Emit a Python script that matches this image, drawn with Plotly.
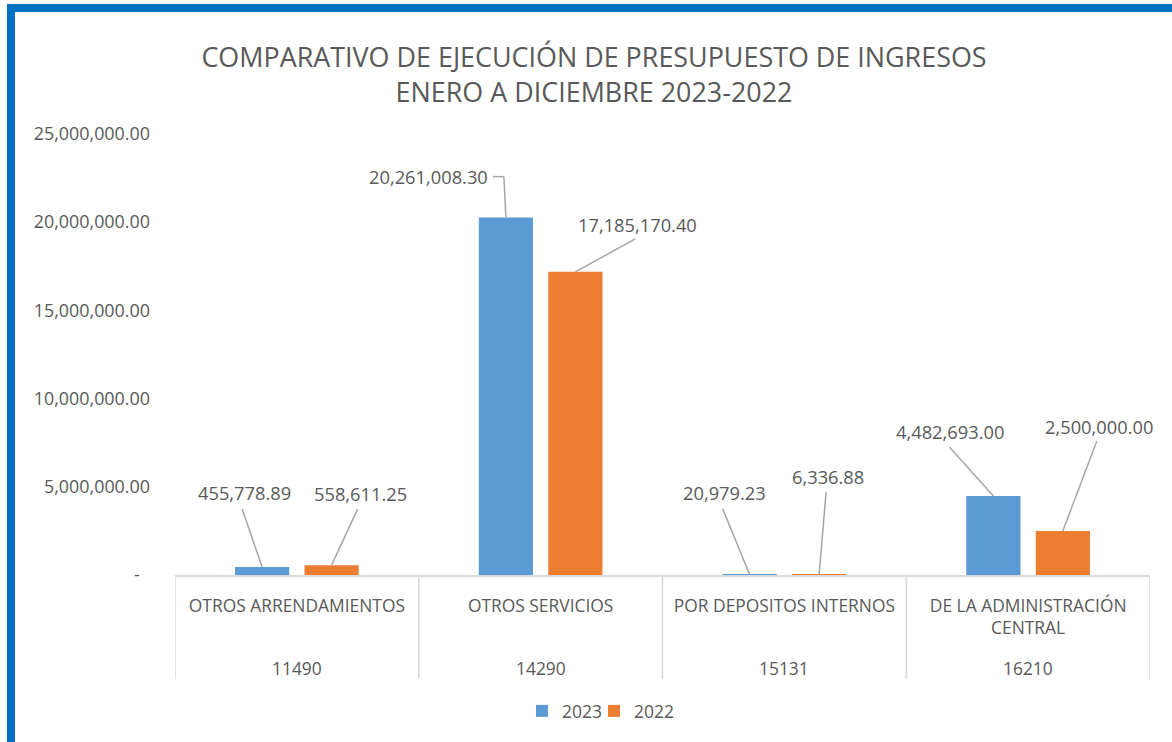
import plotly.graph_objects as go

# ---- data -------------------------------------------------------------
codes = ["11490", "14290", "15131", "16210"]
names = ["OTROS ARRENDAMIENTOS", "OTROS SERVICIOS", "POR DEPOSITOS INTERNOS",
         "DE LA ADMINISTRACIÓN<br>CENTRAL"]
series_names = ["2023", "2022"]
values_2023 = [455778.89, 20261008.30, 20979.23, 4482693.00]
values_2022 = [558611.25, 17185170.40, 6336.88, 2500000.00]
y_ticks = [0, 5000000, 10000000, 15000000, 20000000, 25000000]

# ---- styling ----------------------------------------------------------
W, H = 1172, 742
ML, MR, MT, MB = 175, 22, 134, 167
FONT = "Open Sans"
TXT = "#595959"
GRID = "#d9d9d9"
LEADER = "#a6a6a6"
colors = ["#5b9bd5", "#ed7d31"]
BARGAP, GROUPGAP = 0.43, 0.22
legend_ids = ["legend", "legend2"]
legend_left_px = [522, 594]

# pixel offsets of each data label (text centre) and its leader line,
# relative to the top-centre of the bar; screen y grows downward
label_layout = {
    "2023": [
        dict(text=(-18, -74), path=[(-20, -58)]),
        dict(text=(-77, -41), path=[(-2, -41), (-13, -41)]),
        dict(text=(-25, -82), path=[(-27, -66)]),
        dict(text=(-43, -64), path=[(-44, -49)]),
    ],
    "2022": [
        dict(text=(29, -72), path=[(26, -56)]),
        dict(text=(62, -47), path=[(60, -33)]),
        dict(text=(9, -98), path=[(7, -83)]),
        dict(text=(36, -104), path=[(34, -90)]),
    ],
}

fig = go.Figure()
for name, vals, col, lg in zip(series_names, [values_2023, values_2022],
                               colors, legend_ids):
    fig.add_trace(go.Bar(
        x=names, y=vals, name=name, legend=lg, showlegend=True,
        marker=dict(color=col, line=dict(width=0)),
        hoverinfo="y",
    ))

# grouped-bar centre offsets in category units
offsets = [(-0.5 + (k + 0.5) / len(series_names)) * (1 - BARGAP)
           for k in range(len(series_names))]


def px_x(p):
    return (p - ML) / (W - ML - MR)


def px_y(p):
    return 1 - (p - MT) / (H - MT - MB)


annotations = []
shapes = []
for k, (name, vals) in enumerate(zip(series_names, [values_2023, values_2022])):
    for i, v in enumerate(vals):
        xpos = i + offsets[k]
        spec = label_layout[name][i]
        dx, dy = spec["text"]
        annotations.append(dict(
            x=xpos, y=v, xref="x2", yref="y", text=f"{v:,.2f}",
            showarrow=False, xshift=dx, yshift=-dy,
            xanchor="center", yanchor="middle",
            font=dict(family=FONT, size=18.3, color=TXT),
        ))
        pts = [(0, 0)] + spec["path"]
        for (x0, y0), (x1, y1) in zip(pts[:-1], pts[1:]):
            shapes.append(dict(
                type="line", xref="x2", yref="y",
                xsizemode="pixel", ysizemode="pixel",
                xanchor=xpos, yanchor=v,
                x0=x0, y0=-y0, x1=x1, y1=-y1,
                line=dict(color=LEADER, width=1.5),
            ))

# second row of category labels (account codes) and the table dividers
for i, code in enumerate(codes):
    annotations.append(dict(
        x=i, y=px_y(668), xref="x2", yref="paper", text=code,
        showarrow=False, xanchor="center", yanchor="middle",
        font=dict(family=FONT, size=17.4, color=TXT),
    ))
for b in range(len(codes) + 1):
    shapes.append(dict(
        type="line", xref="x2", yref="paper",
        x0=b - 0.5, x1=b - 0.5, y0=px_y(575), y1=px_y(679),
        line=dict(color=GRID, width=1.5),
    ))

# blue frame along the top and left edges
FRAME = "#0070c0"
shapes.append(dict(type="rect", xref="paper", yref="paper",
                   x0=px_x(7), x1=px_x(W + 5), y0=px_y(12), y1=px_y(4),
                   fillcolor=FRAME, line=dict(width=0), layer="above"))
shapes.append(dict(type="rect", xref="paper", yref="paper",
                   x0=px_x(7), x1=px_x(15), y0=px_y(H + 5), y1=px_y(4),
                   fillcolor=FRAME, line=dict(width=0), layer="above"))

tick_text = ["-\u2007" if t == 0 else f"{t:,.2f}" for t in y_ticks]

legend_style = dict(
    orientation="h", xref="container", yref="container",
    xanchor="left", y=1 - 711 / H, yanchor="middle",
    font=dict(family=FONT, size=17.5, color=TXT),
    itemwidth=30, bgcolor="rgba(0,0,0,0)",
)
legends = {lg: dict(legend_style, x=left / W)
           for lg, left in zip(legend_ids, legend_left_px)}

fig.update_layout(
    width=W, height=H,
    showlegend=True,
    margin=dict(l=ML, r=MR, t=MT, b=MB, pad=0),
    paper_bgcolor="white", plot_bgcolor="white",
    barmode="group", bargap=BARGAP, bargroupgap=GROUPGAP,
    title=dict(
        text="COMPARATIVO DE EJECUCIÓN DE PRESUPUESTO DE INGRESOS<br>ENERO A DICIEMBRE 2023-2022",
        x=594 / W, xanchor="center", xref="container",
        y=1 - 67 / H, yanchor="middle", yref="container",
        font=dict(family=FONT, size=26.9, color=TXT),
    ),
    font=dict(family=FONT, size=17.5, color=TXT),
    xaxis=dict(
        type="category", range=[-0.5, 3.5],
        showline=True, linecolor=GRID, linewidth=1.5,
        tickfont=dict(family=FONT, size=17.4, color=TXT),
        ticks="", ticklabelstandoff=14,
        showgrid=False, zeroline=False,
    ),
    xaxis2=dict(overlaying="x", range=[-0.5, 3.5], visible=False,
                showgrid=False, zeroline=False),
    yaxis=dict(
        range=[0, 25000000], tickvals=y_ticks, ticktext=tick_text,
        showline=False, showgrid=False, zeroline=False, ticks="",
        tickfont=dict(family=FONT, size=17.9, color=TXT),
        ticklabelstandoff=24,
    ),
    annotations=annotations,
    shapes=shapes,
    **legends,
)

fig.write_html("out.html")
